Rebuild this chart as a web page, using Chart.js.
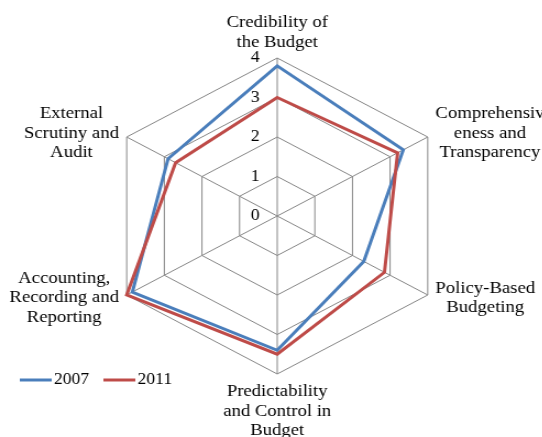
<!DOCTYPE html>
<html>
<head>
<meta charset="utf-8">
<script src="https://cdn.jsdelivr.net/npm/chart.js@4.4.1/dist/chart.umd.min.js"></script>
<style>
  html, body { margin: 0; padding: 0; background: #fff; overflow: hidden; }
  #wrap { width: 542px; height: 437px; overflow: hidden; }
  /* the original picture is a bit wider than tall, text included */
  #radar { display: block; transform: scaleX(1.1); transform-origin: 0 0; }
</style>
</head>
<body>
<div id="wrap"><canvas id="radar" width="493" height="437"></canvas></div>
<script>
const categories = [
  ['Credibility of', 'the Budget'],
  ['Comprehensiv', 'eness and', 'Transparency'],
  ['Policy-Based', 'Budgeting'],
  ['Predictability', 'and Control in', 'Budget'],
  ['Accounting,', 'Recording and', 'Reporting'],
  ['External', 'Scrutiny and', 'Audit']
];
const seriesNames = ['2007', '2011'];
const values2007 = [3.8, 3.35, 2.3, 3.4, 3.85, 2.9];
const values2011 = [3.0, 3.2, 2.85, 3.5, 4.0, 2.7];
const tickValues = [0, 1, 2, 3, 4];

const FONT = "'Liberation Serif', 'Times New Roman', serif";
const GREY = '#868686';

// tick labels, category labels and legend, placed like the Excel original
const radarText = {
  id: 'radarText',
  afterDatasetsDraw(chart) {
    const s = chart.scales.r;
    const ctx = chart.ctx;
    ctx.save();
    ctx.fillStyle = '#000';
    ctx.textBaseline = 'middle';

    ctx.font = '16px ' + FONT;
    ctx.textAlign = 'right';
    s.ticks.forEach(t => {
      const y = s.yCenter - s.getDistanceFromCenterForValue(t.value);
      ctx.fillText(t.label, s.xCenter - 16, y);
    });

    ctx.font = '17px ' + FONT;
    ctx.textAlign = 'center';
    const lh = 19.5;
    chart.data.labels.forEach((lines, i) => {
      const p = s.getPointPosition(i, s.drawingArea);
      const w = Math.max(...lines.map(l => ctx.measureText(l).width));
      const h = lines.length * lh;
      const dx = p.x - s.xCenter, dy = p.y - s.yCenter;
      let cx, top;
      if (Math.abs(dx) < 1) {
        cx = p.x;
        top = dy < 0 ? p.y - 6 - h : p.y + 8;
      } else {
        cx = dx > 0 ? p.x + 7 + w / 2 : p.x - 7 - w / 2;
        top = p.y - h / 2 + (dy < 0 ? -3.5 : 3);
      }
      lines.forEach((l, k) => ctx.fillText(l, cx, top + lh * (k + 0.5)));
    });

    // legend
    ctx.font = '16px ' + FONT;
    ctx.textAlign = 'left';
    let x = 18;
    const y = 380;
    chart.data.datasets.forEach(ds => {
      ctx.strokeStyle = ds.borderColor;
      ctx.lineWidth = 3;
      ctx.beginPath();
      ctx.moveTo(x, y);
      ctx.lineTo(x + 29, y);
      ctx.stroke();
      ctx.fillText(ds.label, x + 31, y);
      x += 31 + ctx.measureText(ds.label).width + 13;
    });
    ctx.restore();
  }
};

new Chart(document.getElementById('radar'), {
  type: 'radar',
  data: {
    labels: categories,
    datasets: [
      { label: seriesNames[0], data: values2007, borderColor: '#4A7EBB', borderWidth: 3,
        pointRadius: 0, fill: false, order: 1 },
      { label: seriesNames[1], data: values2011, borderColor: '#BE4B48', borderWidth: 3,
        pointRadius: 0, fill: false, order: 0 }
    ]
  },
  options: {
    responsive: false,
    animation: false,
    layout: { padding: { left: 94, right: 83, top: 58, bottom: 63 } },
    plugins: { legend: { display: false }, tooltip: { enabled: false } },
    elements: { line: { tension: 0 } },
    scales: {
      r: {
        min: 0,
        max: 4,
        afterBuildTicks: s => { s.ticks = tickValues.map(v => ({ value: v })); },
        ticks: { display: false },
        pointLabels: { display: false },
        grid: { color: GREY, lineWidth: 1 },
        angleLines: { color: GREY, lineWidth: 1 }
      }
    }
  },
  plugins: [radarText]
});
</script>
</body>
</html>
